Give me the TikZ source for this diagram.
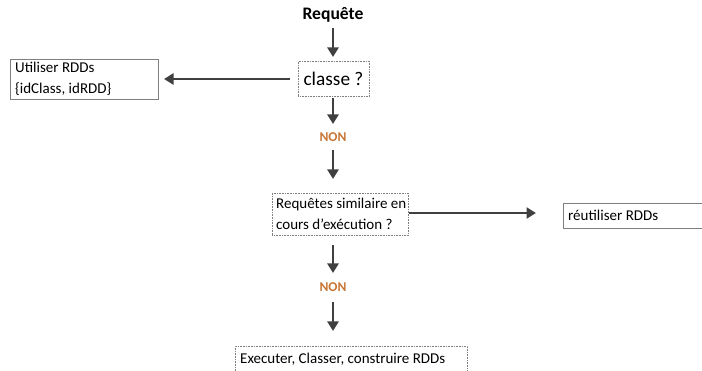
\documentclass[tikz,border=0pt]{standalone}
\usepackage{fontspec}
\setmainfont{Carlito}
\usetikzlibrary{arrows.meta}
\definecolor{arrowgray}{HTML}{404040}
\definecolor{nonorange}{HTML}{C87533}
\definecolor{boxgray}{HTML}{7F7F7F}
\tikzset{
  flow/.style={draw=arrowgray, line width=2.9pt, -{Triangle[length=9.5pt,width=11pt]}},
  solidbox/.style={draw=boxgray, line width=0.7pt, inner sep=0pt, anchor=north west},
  dotbox/.style={draw=boxgray, line width=0.6pt, densely dotted, inner sep=0pt, anchor=north west},
  lbl/.style={font=\fontsize{15}{20.5}\selectfont, align=left, anchor=west, inner sep=0pt},
  non/.style={text=nonorange, font=\bfseries\fontsize{13.5}{16}\selectfont, inner sep=0pt}
}
\begin{document}
\begin{tikzpicture}[x=1pt, y=-1pt]
  \useasboundingbox (0,0) rectangle (702,371);

  % title
  \node[font=\bfseries\fontsize{17.6}{21}\selectfont, inner sep=0pt] (req) at (333,15) {Requête};

  % first test
  \node[dotbox, minimum width=71pt, minimum height=35pt] (classe) at (298,61) {};
  \node[font=\fontsize{19.3}{23}\selectfont, inner sep=0pt] at (333.5,79) {classe ?};

  % yes branch on the left
  \node[solidbox, minimum width=148pt, minimum height=40pt] (util) at (10,59) {};
  \node[lbl] at (15,79) {Utiliser RDDs\\\{idClass, idRDD\}};

  \node[non] (non1) at (333,137) {NON};

  % second test
  \node[dotbox, minimum width=136pt, minimum height=42pt] (simil) at (272,193) {};
  \node[lbl] at (276,214) {Requêtes similaire en\\cours d’exécution ?};

  % yes branch on the right
  \node[solidbox, minimum width=150pt, minimum height=25pt] (reut) at (563,203) {};
  \node[lbl] at (568,215.5) {réutiliser RDDs};

  \node[non] (non2) at (333,287) {NON};

  % final step
  \node[dotbox, minimum width=232pt, minimum height=40pt] (exec) at (235,346) {};
  \node[lbl] at (240,359) {Executer, Classer, construire RDDs};

  % free ends of the connectors
  \coordinate (p1) at (333,28);   \coordinate (p2) at (333,57);
  \coordinate (p3) at (290,79);   \coordinate (p4) at (164,79);
  \coordinate (p5) at (333,98);   \coordinate (p6) at (333,124);
  \coordinate (p7) at (333,150);  \coordinate (p8) at (333,179);
  \coordinate (p9) at (409,213);  \coordinate (p10) at (536,213);
  \coordinate (p11) at (333,245); \coordinate (p12) at (333,273);
  \coordinate (p13) at (333,302); \coordinate (p14) at (333,331);

  % connectors
  \draw[flow] (p1) -- (p2);
  \draw[flow] (p3) -- (p4);
  \draw[flow] (p5) -- (p6);
  \draw[flow] (p7) -- (p8);
  \draw[flow] (p9) -- (p10);
  \draw[flow] (p11) -- (p12);
  \draw[flow] (p13) -- (p14);
\end{tikzpicture}
\end{document}
